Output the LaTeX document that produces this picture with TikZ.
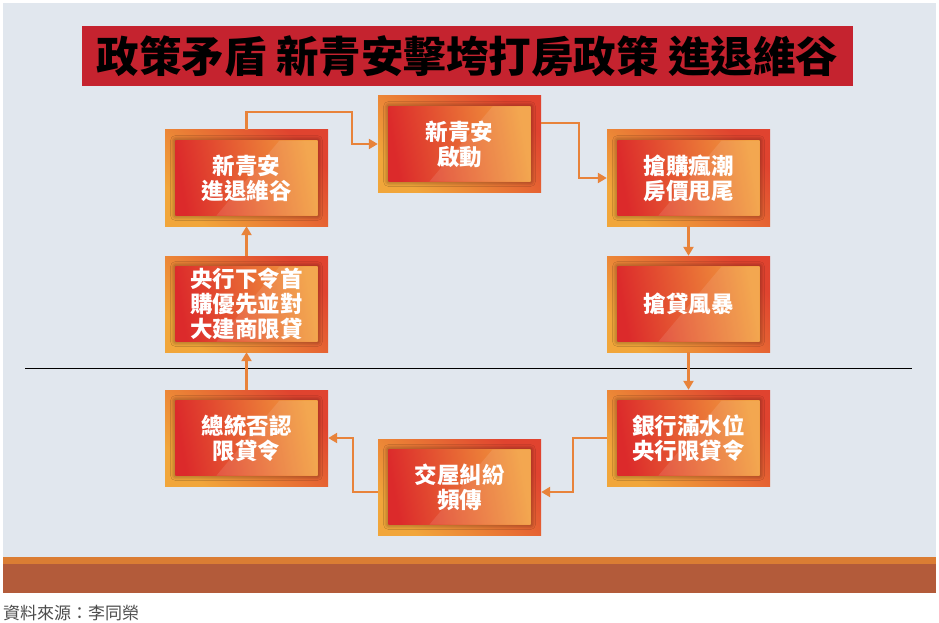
\documentclass[tikz,border=0pt]{standalone}
\usepackage{fontspec}
\setmainfont{Noto Sans CJK TC}
\usetikzlibrary{arrows.meta,shadows.blur}
\definecolor{panel}{HTML}{E1E7EE}
\definecolor{stripe}{HTML}{DB7D33}
\definecolor{band}{HTML}{B35B3A}
\definecolor{titlered}{HTML}{C5232F}
\definecolor{framered}{HTML}{E0432F}
\definecolor{frameamber}{HTML}{F1A63A}
\definecolor{cardred}{HTML}{DC2A2B}
\definecolor{cardorange}{HTML}{F29E3D}
\definecolor{flowor}{HTML}{E8833A}
\tikzset{
  frame/.style={shading=axis,top color=framered,bottom color=frameamber,shading angle=-45,
    minimum width=163pt,minimum height=96pt,inner sep=0pt},
  card/.style={shading=axis,top color=cardred,bottom color=cardorange,shading angle=100,
    minimum width=142pt,minimum height=75pt,inner sep=0pt,text=white,align=center,
    font=\fontsize{22.5}{25}\selectfont\bfseries,
    blur shadow={shadow xshift=0pt,shadow yshift=0pt,shadow blur radius=5pt,shadow opacity=55},
    path picture={\fill[white,opacity=.1]([xshift=33pt]path picture bounding box.north)
      --(path picture bounding box.north east)--(path picture bounding box.south east)
      --([xshift=-30pt]path picture bounding box.south)--cycle;}},
  flow/.style={draw=flowor,line width=2.5pt,-{Triangle[length=9pt,width=10pt]}}
}
\begin{document}
\begin{tikzpicture}[x=1pt,y=-1pt]
\path[use as bounding box,fill=white](0,0)rectangle(939,623);
\fill[panel](3,3)rectangle(936,557);
\fill[stripe](3,557)rectangle(936,564);
\fill[band](3,564)rectangle(936,593);
\node[anchor=base west,text=black!70,font=\fontsize{17}{17}\selectfont,inner sep=0pt](src)at(3,619){資料來源：李同榮};
\node[fill=titlered,minimum width=771pt,minimum height=60pt,inner sep=0pt,
  font=\fontsize{42.5}{42.5}\selectfont\bfseries](title)at(467.5,56){政策矛盾 新青安擊垮打房政策 進退維谷};
\draw[black,line width=.8pt](25,368)--(912,368);
\foreach \nm/\x/\y/\txt in {stuck/246.5/178/{新青安\\進退維谷},start/459.5/144/{新青安\\啟動},
  rush/688.5/178/{搶購瘋潮\\房價甩尾},loan/688.5/304/{搶貸風暴},bank/688.5/438/{銀行滿水位\\央行限貸令},
  dispute/459.5/487/{交屋糾紛\\頻傳},deny/246.5/438/{總統否認\\限貸令},cbank/246.5/304/{央行下令首\\購優先並對\\大建商限貸}}{
  \node[frame](\nm)at(\x,\y){};
  \node[card](\nm txt)at(\nm){\txt};
}
\coordinate(k1)at(352,112);
\draw[flow](stuck.north)|-(k1)|-(start.west);
\draw[flow]([yshift=21pt]start.east)--++(38,0)|-(rush.west);
\draw[flow](rush.south)--(loan.north);
\draw[flow](loan.south)--(bank.north);
\draw[flow](bank.west)--++(-34,0)|-([yshift=-5pt]dispute.east);
\draw[flow]([yshift=-5pt]dispute.west)--++(-25,0)|-(deny.east);
\draw[flow](deny.north)--(cbank.south);
\draw[flow](cbank.north)--(stuck.south);
\end{tikzpicture}
\end{document}
